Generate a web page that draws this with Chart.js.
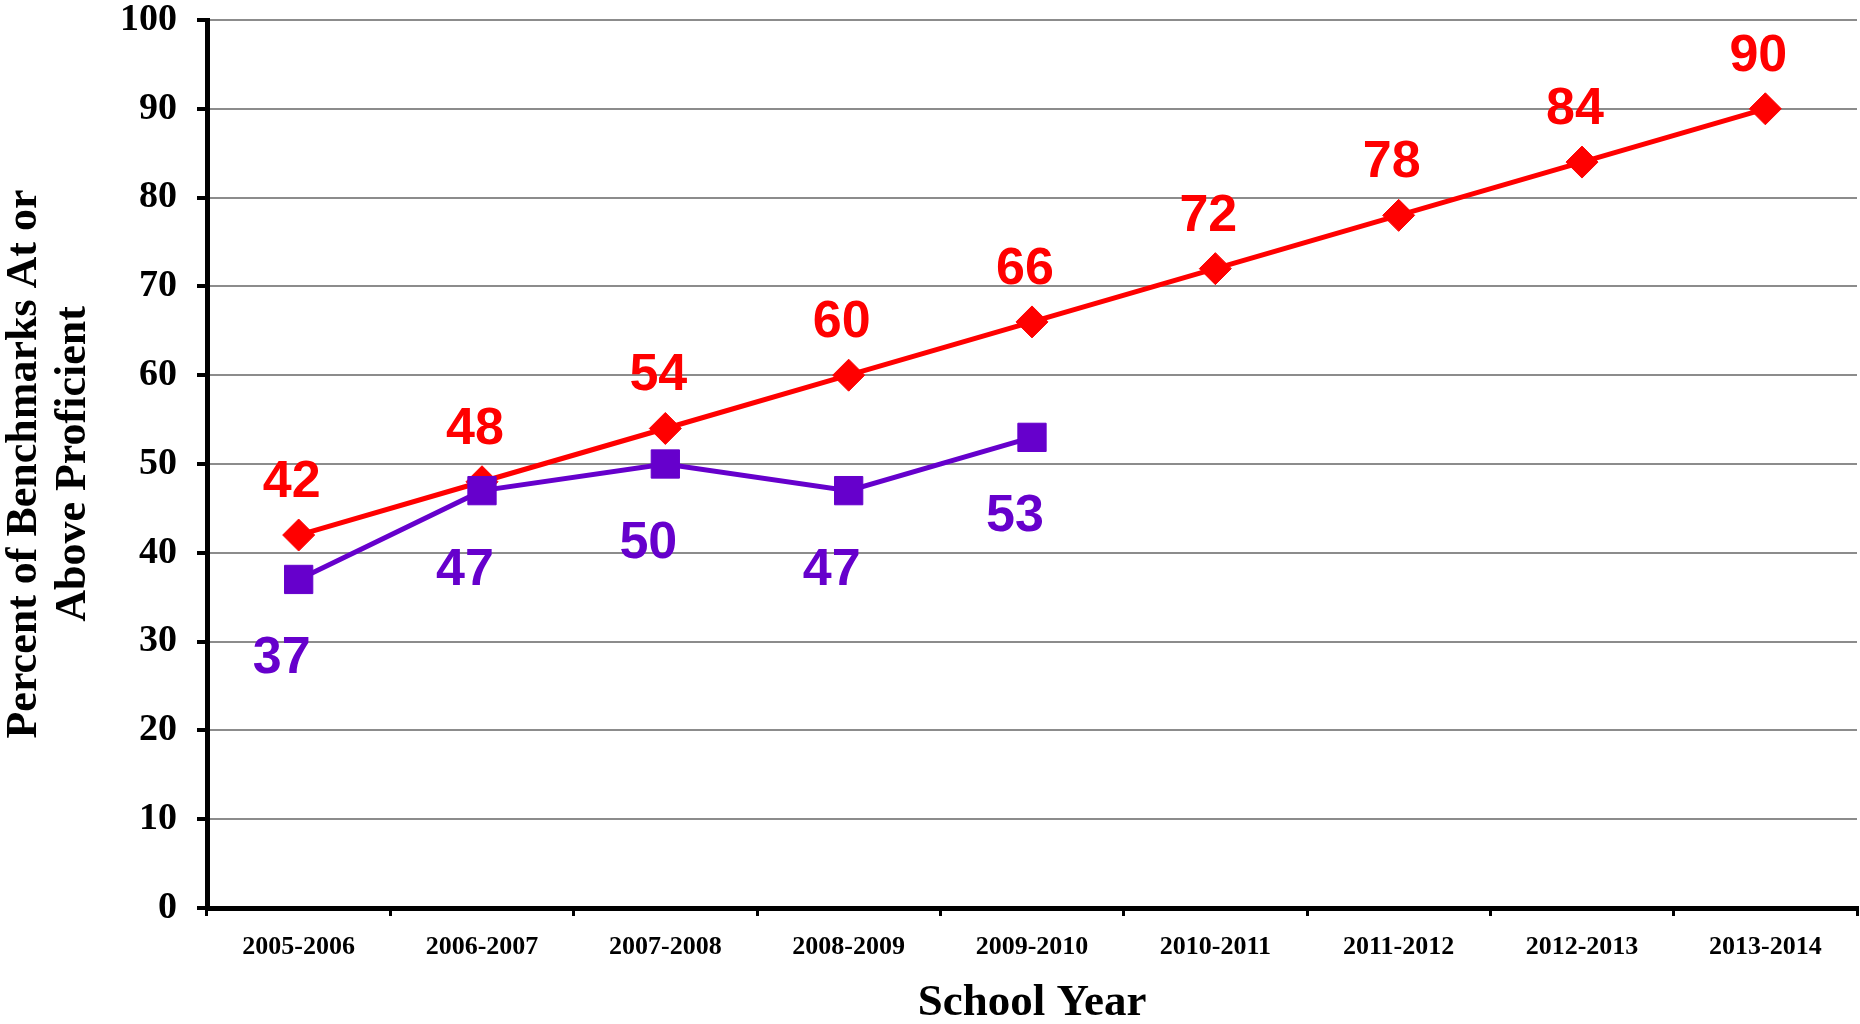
<!DOCTYPE html>
<html>
<head>
<meta charset="utf-8">
<script src="https://cdn.jsdelivr.net/npm/chart.js@4.4.0/dist/chart.umd.min.js"></script>
<style>
  body { margin: 0; background: #fff; }
  #chart { display: block; }
</style>
</head>
<body>
<canvas id="chart" width="1860" height="1024"></canvas>
<script>
// chart values
var schoolYears = ["2005-2006", "2006-2007", "2007-2008", "2008-2009", "2009-2010",
                   "2010-2011", "2011-2012", "2012-2013", "2013-2014"];
var targetValues = [42, 48, 54, 60, 66, 72, 78, 84, 90];
var actualValues = [37, 47, 50, 47, 53, null, null, null, null];
var yTicks = [0, 10, 20, 30, 40, 50, 60, 70, 80, 90, 100];

var RED = "#FF0000";
var PURPLE = "#6600CC";
var SERIF = "'Liberation Serif', 'Times New Roman', serif";

// draws the value next to each point, red above, purple below
var valueLabels = {
  id: "valueLabels",
  afterDatasetsDraw: function(chart) {
    var ctx = chart.ctx;
    ctx.save();
    ctx.font = "bold 52px 'Liberation Sans', Arial, sans-serif";
    ctx.textAlign = "center";
    ctx.textBaseline = "alphabetic";
    chart.data.datasets.forEach(function(ds, i) {
      var meta = chart.getDatasetMeta(i);
      meta.data.forEach(function(pt, j) {
        var v = ds.data[j];
        if (v === null || v === undefined) return;
        ctx.fillStyle = ds.borderColor;
        if (ds.labelSide === "above") {
          ctx.fillText(v, pt.x - 7, pt.y - 38);
        } else {
          ctx.fillText(v, pt.x - 17, pt.y + 94);
        }
      });
    });
    ctx.restore();
  }
};

var ctx = document.getElementById("chart").getContext("2d");
var chart = new Chart(ctx, {
  type: "line",
  data: {
    labels: schoolYears,
    datasets: [{
      label: "Target",
      data: targetValues,
      borderColor: RED,
      backgroundColor: RED,
      borderWidth: 5,
      pointStyle: "rectRot",
      pointRadius: 16,
      pointBorderWidth: 1,
      labelSide: "above",
      order: 1
    }, {
      label: "Actual",
      data: actualValues,
      borderColor: PURPLE,
      backgroundColor: PURPLE,
      borderWidth: 5,
      pointStyle: "rect",
      pointRadius: 20,
      pointBorderWidth: 1,
      labelSide: "below",
      spanGaps: false,
      order: 0
    }]
  },
  options: {
    responsive: false,
    animation: false,
    layout: { autoPadding: false, padding: { top: 0, right: 3, left: 0, bottom: 0 } },
    plugins: {
      legend: { display: false },
      tooltip: { enabled: false }
    },
    scales: {
      x: {
        offset: true,
        grid: {
          offset: true,
          drawOnChartArea: false,
          color: "#000",
          lineWidth: 3,
          tickLength: 8
        },
        border: { color: "#000", width: 5 },
        ticks: {
          color: "#000",
          font: { family: SERIF, size: 26, weight: "bold" },
          padding: 16,
          maxRotation: 0
        },
        title: {
          display: true,
          text: "School Year",
          color: "#000",
          font: { family: SERIF, size: 45, weight: "bold" },
          padding: { top: 0, bottom: -6 }
        },
        afterFit: function(scale) { scale.height = 116; }
      },
      y: {
        min: 0,
        max: 100,
        afterBuildTicks: function(scale) {
          scale.ticks = yTicks.map(function(v) { return { value: v }; });
        },
        grid: {
          color: "#8c8c8c",
          lineWidth: 2,
          tickColor: "#000",
          tickWidth: 4,
          tickLength: 10
        },
        border: { color: "#000", width: 5 },
        ticks: {
          color: "#000",
          font: { family: SERIF, size: 38, weight: "bold" },
          padding: 20
        },
        title: {
          display: true,
          text: ["Percent of Benchmarks At or", "Above Proficient"],
          color: "#000",
          font: { family: SERIF, size: 44, weight: "bold", lineHeight: 1.12 },
          padding: { top: 0, bottom: 0 }
        },
        afterFit: function(scale) {
          scale.width = 207;
          scale.paddingTop = 20;
          scale.paddingBottom = 0;
        }
      }
    }
  },
  plugins: [valueLabels]
});
</script>
</body>
</html>
